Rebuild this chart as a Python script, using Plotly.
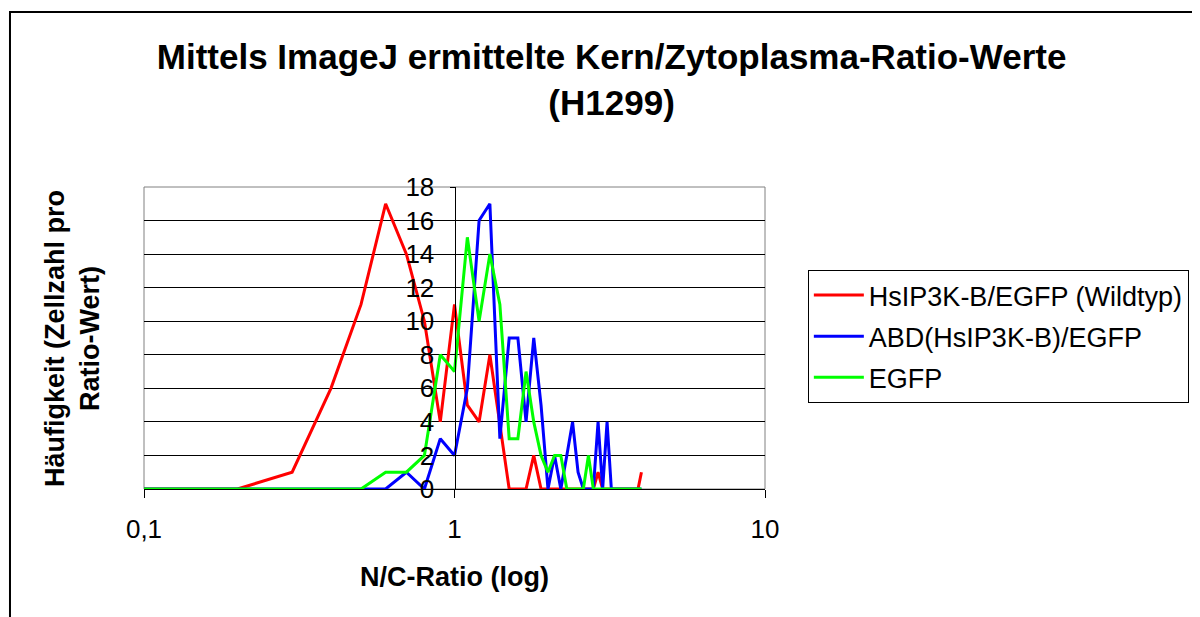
import plotly.graph_objects as go

# N/C-Ratio bins (x) and cell counts per bin
ratio = [0.1, 0.2, 0.3, 0.4, 0.5, 0.6, 0.7, 0.8, 0.9, 1.0,
         1.1, 1.2, 1.3, 1.4, 1.5, 1.6, 1.7, 1.8, 1.9, 2.0,
         2.1, 2.2, 2.3, 2.4, 2.5, 2.6, 2.7, 2.8, 2.9, 3.0,
         3.1, 3.2, 3.3, 3.4, 3.5, 3.6, 3.7, 3.8, 3.9, 4.0]

wildtyp = [0, 0, 1, 6, 11, 17, 14, 10, 4, 11,
           5, 4, 8, 4, 0, 0, 0, 2, 0, 0,
           0, 0, 0, 0, 0, 0, 0, 0, 1, 0,
           0, 0, 0, 0, 0, 0, 0, 0, 0, 1]

abd = [0, 0, 0, 0, 0, 0, 1, 0, 3, 2,
       6, 16, 17, 3, 9, 9, 4, 9, 5, 0,
       2, 0, 2, 4, 1, 0, 0, 0, 4, 0,
       4, 0, 0, 0, 0, 0, 0, 0, 0, 0]

egfp = [0, 0, 0, 0, 0, 1, 1, 2, 8, 7,
        15, 10, 14, 11, 3, 3, 7, 4, 2, 1,
        2, 2, 0, 0, 0, 0, 2, 0, 0, 0,
        0, 0, 0, 0, 0, 0, 0, 0, 0, 0]

names = ["HsIP3K-B/EGFP (Wildtyp)", "ABD(HsIP3K-B)/EGFP", "EGFP"]
colors = ["#ff0000", "#0000ff", "#00ff00"]

x_ticks = [0.1, 1, 10]
x_ticktext = ["0,1", "1", "10"]

FONT = "Liberation Sans, Arial, sans-serif"

fig = go.Figure()
for i, (name, vals) in enumerate(zip(names, [wildtyp, abd, egfp])):
    fig.add_trace(go.Scatter(x=ratio, y=vals, mode="lines", name=name,
                             legendgroup=str(i),
                             line=dict(color=colors[i], width=3)))

# page body adds 8px offset, margins compensate for it
fig.update_layout(
    width=1200, height=617,
    margin=dict(l=136, r=443, t=179, b=136),
    paper_bgcolor="white", plot_bgcolor="white",
    font=dict(family=FONT, color="black", size=26),
    title=dict(text="<b>Mittels ImageJ ermittelte Kern/Zytoplasma-Ratio-Werte<br>(H1299)</b>",
               x=0.503, xref="container", xanchor="center",
               y=0.901, yref="container", yanchor="top",
               font=dict(size=35, family=FONT)),
    legend=dict(x=1.069, y=0.725, xanchor="left", yanchor="top",
                bordercolor="black", borderwidth=1, bgcolor="white",
                itemwidth=50,
                font=dict(size=27, family=FONT), tracegroupgap=3),
    showlegend=True,
)

fig.update_xaxes(type="log", range=[-1, 1], domain=[0, 1],
                 tickvals=x_ticks, ticktext=x_ticktext,
                 ticks="outside", ticklen=8, tickcolor="black",
                 ticklabelstandoff=9,
                 showline=True, linecolor="black", linewidth=1,
                 showgrid=False, zeroline=False,
                 title=dict(text="<b>N/C-Ratio (log)</b>", standoff=23,
                            font=dict(size=27, family=FONT)))

fig.update_yaxes(range=[0, 18], dtick=2, anchor="free", position=0.5,
                 ticks="outside", ticklen=5, tickcolor="black",
                 ticklabelstandoff=10,
                 showline=True, linecolor="black", linewidth=1,
                 showgrid=True, gridcolor="black", gridwidth=1,
                 zeroline=False)

# y axis title (axis itself sits at x = 1)
fig.add_annotation(text="<b>Häufigkeit (Zellzahl pro<br>Ratio-Wert)</b>",
                   xref="paper", yref="paper", x=-0.116, y=0.5,
                   xanchor="center", yanchor="middle", textangle=-90,
                   showarrow=False, font=dict(size=27, family=FONT))

# gray plot-area frame and outer chart border
fig.add_shape(type="rect", xref="paper", yref="paper", x0=0, x1=1, y0=0, y1=1,
              line=dict(color="#808080", width=1), layer="below")
fig.add_shape(type="rect", xref="paper", yref="paper",
              x0=-0.2158, x1=1.75, y0=-0.5, y1=1.5795,
              line=dict(color="black", width=2))

fig.write_html("out.html")
